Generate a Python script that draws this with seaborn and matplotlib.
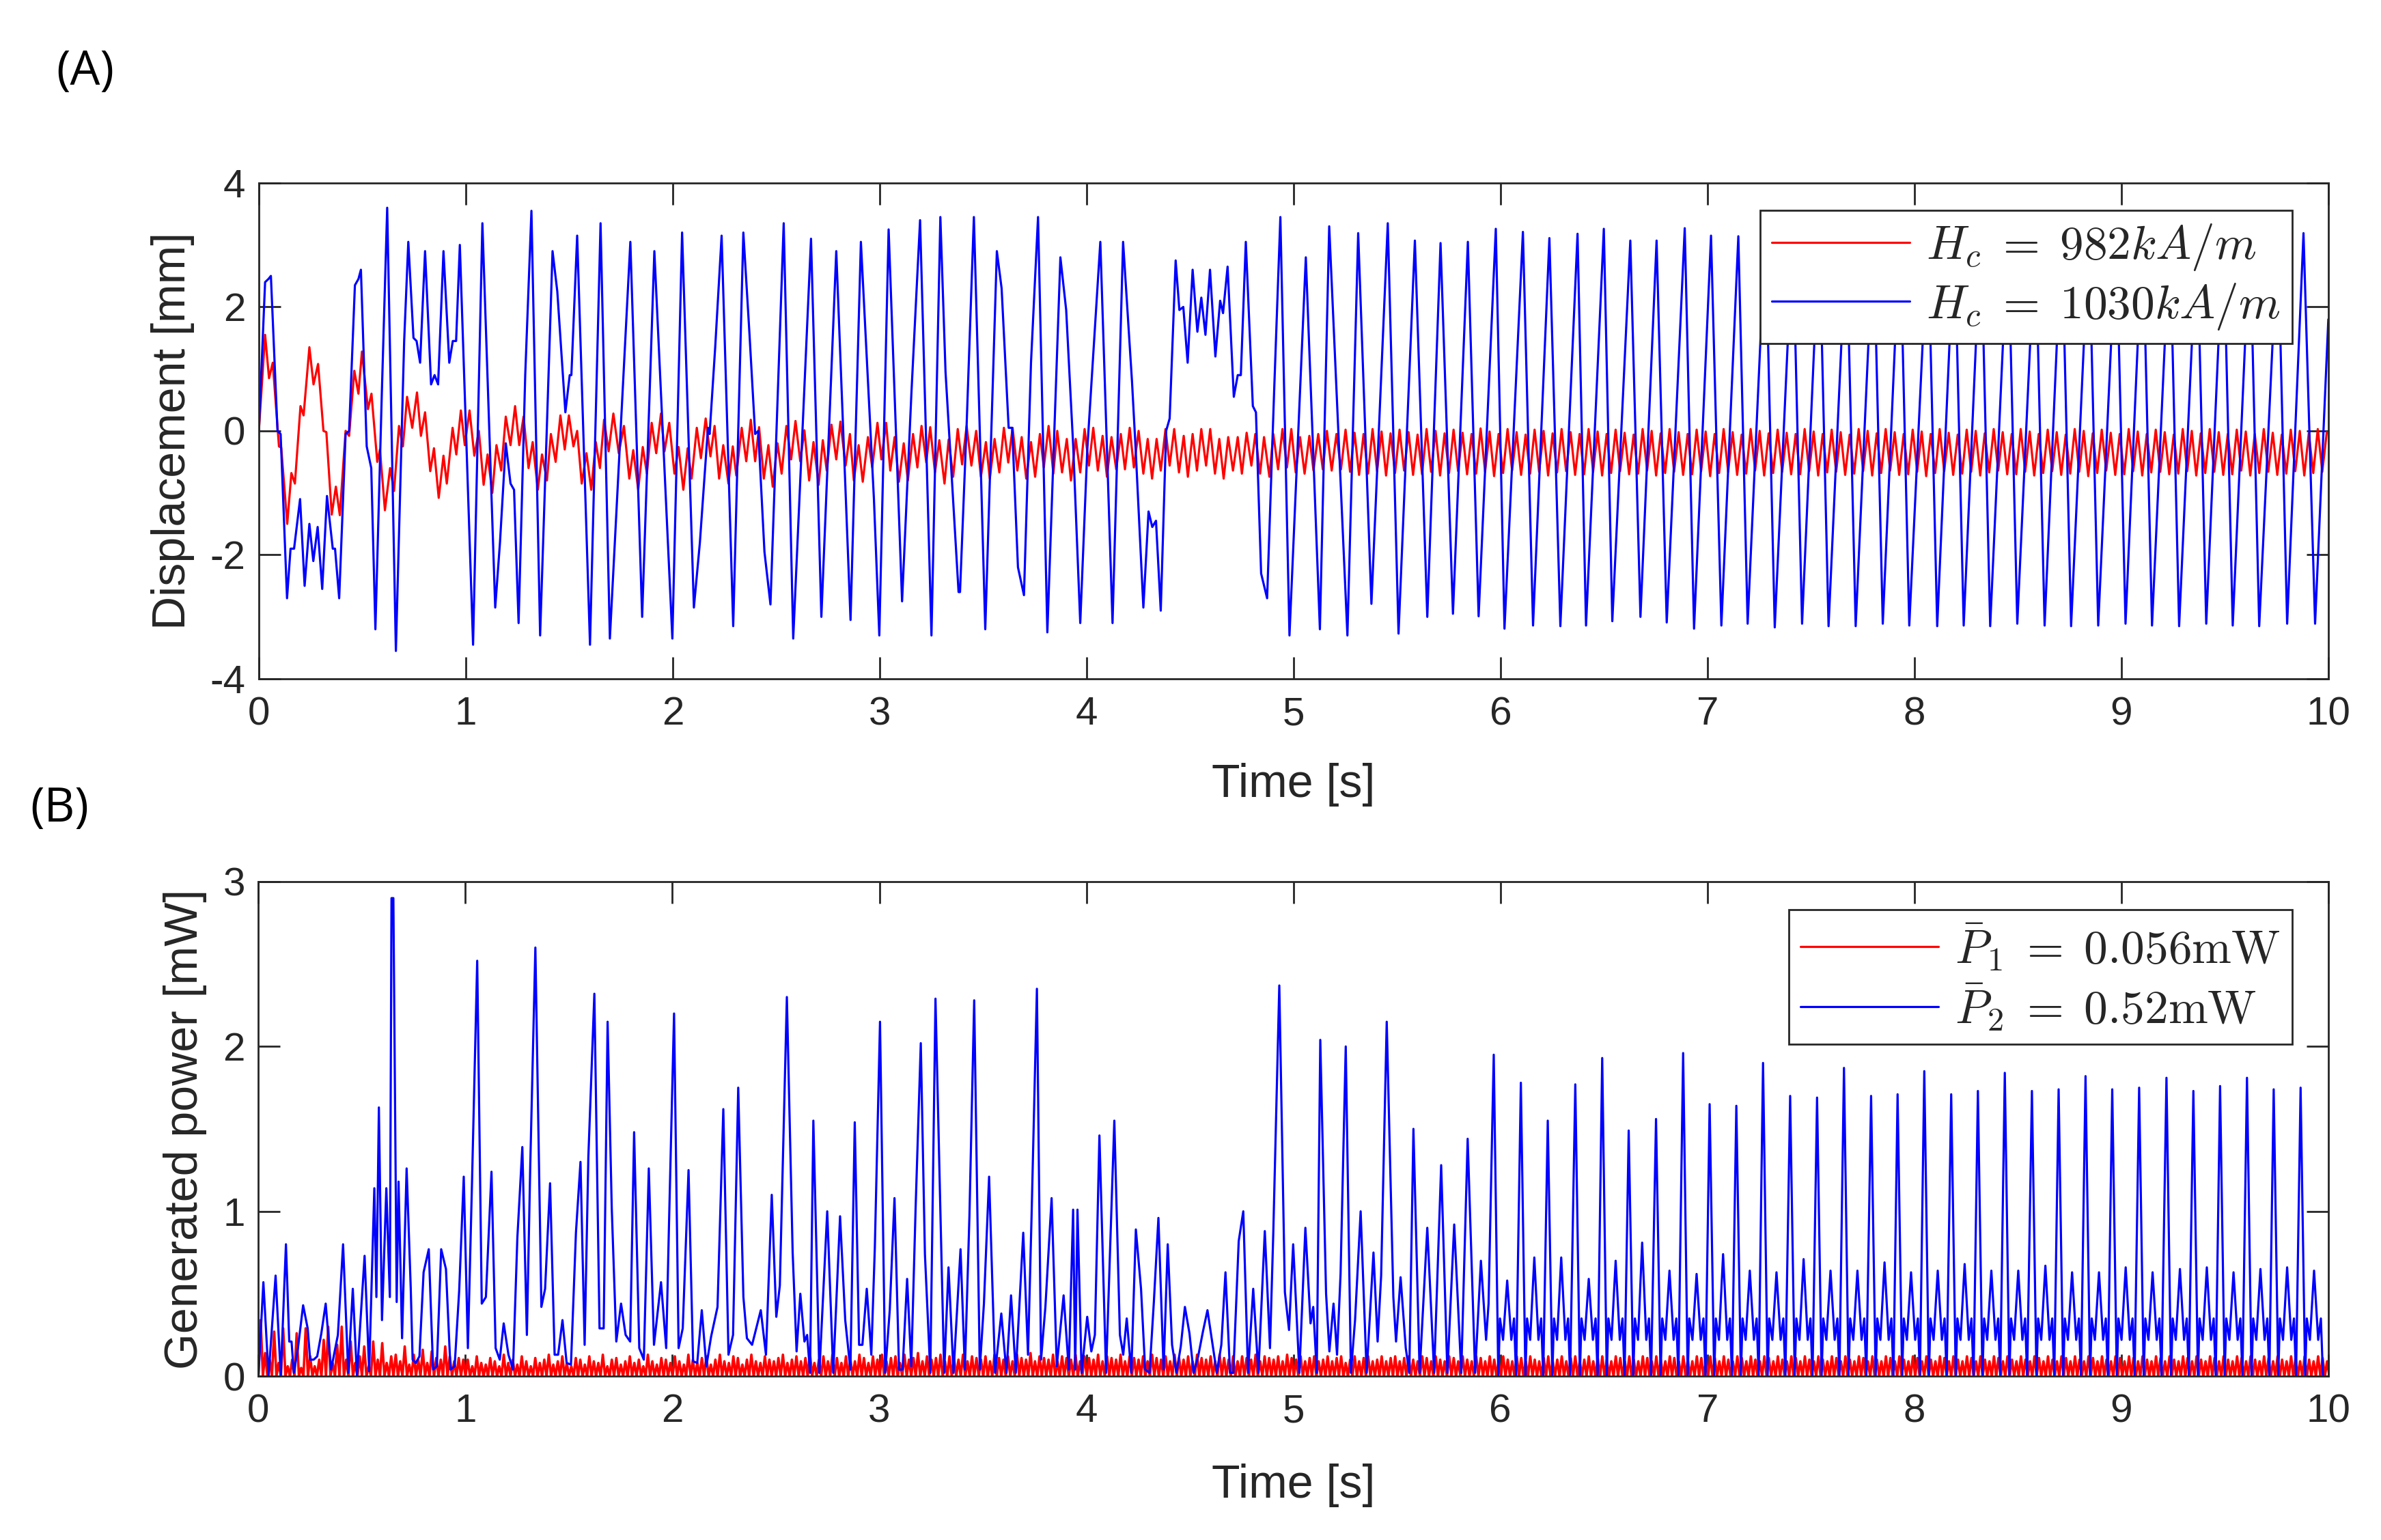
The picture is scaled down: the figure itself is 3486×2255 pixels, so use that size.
import numpy as np
import matplotlib
matplotlib.use("Agg")
from matplotlib import pyplot as plt
import seaborn as sns

# ---------- (A) displacement [mm] ----------
# blue, Hc = 1030 kA/m : turning points (time s, mm)
disp_blue_pts = np.array([
    (0.0, 0.0), (0.03, 2.4), (0.046, 2.45), (0.058, 2.5), (0.09, 0.0), (0.105, -0.05),
    (0.136, -2.7), (0.153, -1.9), (0.17, -1.9), (0.199, -1.1), (0.221, -2.5), (0.244, -1.5),
    (0.263, -2.1), (0.284, -1.55), (0.306, -2.55), (0.329, -1.05), (0.357, -1.9), (0.368, -1.9),
    (0.388, -2.7), (0.419, -0.05), (0.436, 0.0), (0.464, 2.35), (0.481, 2.45), (0.493, 2.6),
    (0.521, -0.25), (0.543, -0.6), (0.563, -3.2), (0.594, 0.6), (0.62, 3.6), (0.662, -3.55),
    (0.702, 1.45), (0.722, 3.05), (0.747, 1.5), (0.762, 1.45), (0.779, 1.1), (0.803, 2.9),
    (0.832, 0.75), (0.849, 0.9), (0.866, 0.75), (0.892, 2.9), (0.92, 1.1), (0.937, 1.45),
    (0.953, 1.45), (0.971, 3.0), (1.035, -3.45), (1.08, 3.35), (1.142, -2.85), (1.165, -1.8),
    (1.193, -0.2), (1.216, -0.85), (1.233, -0.95), (1.255, -3.1), (1.287, 0.9), (1.317, 3.55),
    (1.359, -3.3), (1.419, 2.9), (1.442, 2.25), (1.481, 0.3), (1.502, 0.9), (1.51, 0.9),
    (1.538, 3.15), (1.6, -3.45), (1.651, 3.35), (1.696, -3.35), (1.795, 3.05), (1.852, -3.0),
    (1.911, 2.9), (1.998, -3.35), (2.045, 3.2), (2.102, -2.85), (2.131, -1.8), (2.17, 0.05),
    (2.178, -0.05), (2.205, 1.35), (2.236, 3.15), (2.292, -3.15), (2.341, 3.2), (2.37, 1.6),
    (2.398, -0.05), (2.413, 0.0), (2.443, -1.95), (2.472, -2.8), (2.536, 3.35), (2.582, -3.35),
    (2.668, 3.1), (2.718, -3.0), (2.79, 2.9), (2.859, -3.05), (2.909, 3.05), (2.972, -1.1),
    (2.998, -3.3), (3.043, 3.25), (3.108, -2.75), (3.153, 0.6), (3.195, 3.4), (3.25, -3.3),
    (3.293, 3.45), (3.318, 0.95), (3.381, -2.6), (3.388, -2.6), (3.42, 0.1), (3.455, 3.45),
    (3.51, -3.2), (3.566, 2.9), (3.589, 2.3), (3.623, 0.05), (3.64, 0.05), (3.668, -2.2),
    (3.697, -2.65), (3.731, 1.1), (3.765, 3.45), (3.81, -3.25), (3.873, 2.8), (3.901, 1.95),
    (3.935, -0.25), (3.969, -3.1), (4.003, -0.3), (4.066, 3.05), (4.125, -3.1), (4.176, 3.05),
    (4.219, 0.8), (4.236, -0.25), (4.274, -2.85), (4.299, -1.3), (4.317, -1.55), (4.335, -1.45),
    (4.358, -2.9), (4.384, 0.0), (4.401, 0.2), (4.43, 2.75), (4.448, 1.95), (4.467, 2.0),
    (4.488, 1.1), (4.512, 2.6), (4.535, 1.6), (4.554, 2.15), (4.574, 1.55), (4.596, 2.6),
    (4.622, 1.2), (4.645, 2.1), (4.659, 1.9), (4.681, 2.65), (4.711, 0.55), (4.73, 0.9),
    (4.745, 0.9), (4.769, 3.05), (4.803, 0.4), (4.818, 0.3), (4.843, -2.3), (4.872, -2.7),
    (4.906, 0.65), (4.936, 3.45), (4.98, -3.3), (5.059, 2.8), (5.127, -3.2), (5.172, 3.3),
    (5.26, -3.3), (5.312, 3.19), (5.376, -2.79), (5.455, 3.35), (5.507, -3.27), (5.586, 3.07),
    (5.646, -3.0), (5.71, 3.03), (5.77, -2.95), (5.842, 3.05), (5.894, -2.99), (5.977, 3.26),
    (6.019, -3.19), (6.108, 3.21), (6.157, -3.14), (6.236, 3.11), (6.289, -3.15), (6.372, 3.18),
    (6.413, -3.14), (6.499, 3.26), (6.54, -3.07), (6.627, 3.07), (6.676, -3.0), (6.754, 3.07),
    (6.803, -3.09), (6.89, 3.27), (6.935, -3.19), (7.017, 3.15), (7.067, -3.14), (7.149, 3.14),
    (7.194, -3.11), (7.28, 3.25), (7.325, -3.17), (7.412, 3.2), (7.457, -3.11), (7.54, 3.24),
    (7.585, -3.15), (7.671, 3.18), (7.716, -3.15), (7.802, 3.22), (7.847, -3.11), (7.93, 3.26),
    (7.975, -3.14), (8.065, 3.2), (8.11, -3.15), (8.193, 3.22), (8.238, -3.14), (8.321, 3.25),
    (8.366, -3.15), (8.452, 3.2), (8.497, -3.11), (8.584, 3.22), (8.629, -3.14), (8.712, 3.25),
    (8.757, -3.15), (8.843, 3.2), (8.888, -3.14), (8.975, 3.22), (9.02, -3.11), (9.103, 3.25),
    (9.148, -3.14), (9.234, 3.2), (9.279, -3.15), (9.365, 3.22), (9.41, -3.11), (9.493, 3.25),
    (9.538, -3.14), (9.621, 3.2), (9.666, -3.15), (9.756, 3.22), (9.801, -3.11), (9.88, 3.19),
    (9.936, -3.11), (10.0, 1.8),
])

# red, Hc = 982 kA/m : transient part (time s, mm)
disp_red_pts = np.array([
    (0.0, 0.0), (0.03, 1.55), (0.049, 0.85), (0.067, 1.1), (0.097, -0.25), (0.108, -0.27),
    (0.137, -1.5), (0.157, -0.68), (0.174, -0.85), (0.201, 0.4), (0.216, 0.25), (0.244, 1.35),
    (0.264, 0.75), (0.286, 1.08), (0.312, 0.0), (0.326, -0.02), (0.352, -1.35), (0.372, -0.9),
    (0.391, -1.36), (0.419, 0.0), (0.436, -0.08), (0.461, 0.97), (0.481, 0.6), (0.498, 1.28),
    (0.527, 0.35), (0.544, 0.6), (0.572, -0.5), (0.585, -0.3), (0.609, -1.28), (0.634, -0.6),
    (0.653, -0.97), (0.677, 0.08), (0.696, -0.25), (0.716, 0.55), (0.741, 0.05), (0.764, 0.62),
    (0.783, -0.08), (0.803, 0.3), (0.828, -0.65), (0.846, -0.28), (0.869, -1.08), (0.892, -0.4),
    (0.908, -0.85), (0.936, 0.05), (0.954, -0.38), (0.976, 0.33), (0.995, -0.23), (1.018, 0.33),
    (1.041, -0.4), (1.063, 0.0), (1.086, -0.87), (1.105, -0.38), (1.128, -1.0), (1.148, -0.23),
    (1.171, -0.64), (1.193, 0.23), (1.216, -0.23), (1.238, 0.4), (1.258, -0.23), (1.279, 0.23),
    (1.303, -0.6), (1.323, -0.18), (1.348, -0.95), (1.368, -0.38), (1.392, -0.8), (1.411, -0.05),
    (1.434, -0.5), (1.457, 0.25), (1.478, -0.3), (1.498, 0.25), (1.52, -0.25), (1.538, 0.0),
    (1.56, -0.85), (1.583, -0.36), (1.606, -0.95), (1.628, -0.18), (1.648, -0.6), (1.668, 0.18),
    (1.69, -0.33), (1.713, 0.28), (1.739, -0.36), (1.764, 0.08), (1.79, -0.77), (1.809, -0.31),
    (1.833, -0.95), (1.855, -0.26), (1.875, -0.69), (1.898, 0.13), (1.92, -0.36), (1.943, 0.28),
    (1.96, -0.33), (1.983, 0.13), (2.008, -0.69), (2.028, -0.26), (2.051, -0.95), (2.072, -0.28),
    (2.091, -0.77), (2.116, 0.05), (2.136, -0.44), (2.159, 0.2), (2.182, -0.41), (2.202, 0.08),
    (2.224, -0.77), (2.244, -0.23), (2.269, -0.85), (2.29, -0.25), (2.307, -0.72), (2.333, 0.05),
    (2.355, -0.49), (2.377, 0.18), (2.398, -0.49), (2.417, 0.06), (2.44, -0.77), (2.462, -0.23),
    (2.483, -0.9), (2.506, -0.2), (2.526, -0.69), (2.549, 0.08), (2.572, -0.46), (2.593, 0.16),
    (2.616, -0.49), (2.636, 0.01), (2.659, -0.8), (2.68, -0.18), (2.705, -0.87), (2.725, -0.15),
    (2.744, -0.64), (2.767, 0.1), (2.79, -0.46), (2.81, 0.15), (2.835, -0.56), (2.856, -0.05),
    (2.875, -0.8), (2.898, -0.23), (2.918, -0.82), (2.943, -0.1), (2.964, -0.59), (2.989, 0.13),
    (3.008, -0.46), (3.031, 0.13), (3.051, -0.64), (3.072, -0.1), (3.093, -0.82), (3.116, -0.2),
    (3.136, -0.8), (3.161, -0.05), (3.182, -0.59), (3.202, 0.08), (3.225, -0.51), (3.244, 0.06),
    (3.267, -0.67), (3.288, -0.15), (3.313, -0.85), (3.333, -0.14), (3.355, -0.74), (3.377, 0.03),
    (3.398, -0.54), (3.42, 0.08), (3.443, -0.56), (3.466, 0.0), (3.489, -0.74), (3.513, -0.18),
    (3.532, -0.77), (3.555, -0.13), (3.578, -0.67), (3.6, 0.05), (3.621, -0.51), (3.642, 0.05),
    (3.665, -0.64), (3.686, -0.1), (3.708, -0.77), (3.731, -0.18), (3.751, -0.74), (3.774, -0.05),
    (3.793, -0.59), (3.816, 0.08), (3.839, -0.69), (3.858, 0.0), (3.881, -0.67), (3.904, -0.13),
    (3.924, -0.8), (3.947, -0.13), (3.969, -0.67), (3.99, 0.03), (4.011, -0.56), (4.032, 0.05),
    (4.054, -0.64), (4.077, -0.08), (4.098, -0.74), (4.12, -0.1), (4.143, -0.62), (4.165, -0.05),
    (4.185, -0.62), (4.208, 0.05), (4.228, -0.59), (4.251, 0.0), (4.274, -0.69), (4.295, -0.13),
    (4.316, -0.77), (4.338, -0.13), (4.358, -0.64), (4.381, 0.03), (4.401, -0.56), (4.423, 0.03),
    (4.446, -0.67), (4.469, -0.08), (4.489, -0.74), (4.512, -0.05), (4.533, -0.64), (4.554, 0.03),
    (4.577, -0.56), (4.597, 0.03), (4.62, -0.69), (4.641, -0.13), (4.662, -0.77), (4.684, -0.1),
    (4.707, -0.64), (4.73, -0.1), (4.75, -0.69), (4.773, -0.03), (4.796, -0.56), (4.815, -0.05),
    (4.838, -0.69), (4.857, -0.1), (4.883, -0.74), (4.902, -0.05), (4.925, -0.62), (4.946, 0.03),
    (4.968, -0.59), (4.989, 0.03), (5.01, -0.67), (5.031, -0.1), (5.053, -0.69), (5.076, -0.08),
    (5.096, -0.64), (5.119, -0.05), (5.141, -0.62), (5.161, 0.0), (5.184, -0.64), (5.207, -0.05),
    (5.229, -0.62),
])

# red steady state after 5.25 s: one peak / one trough every half period (~23 Hz)
red_steady_start = 5.251
red_half_period = 0.02175
red_steady_peaks = [
    0.02, -0.03, -0.05, 0.03, -0.01, -0.04, 0.02, -0.02, -0.06, 0.03, 0.0, -0.04, 0.02, -0.03, -0.05,
    0.04, -0.01, -0.05, 0.03, -0.02, -0.06, 0.02, 0.0, -0.04, 0.03, -0.02, -0.05, 0.03, -0.01, -0.05,
    0.02, -0.03, -0.06, 0.03, 0.0, -0.04, 0.03, -0.02, -0.05, 0.02, -0.01, -0.05, 0.03, -0.02, -0.06,
    0.03, 0.0, -0.04, 0.02, -0.03, -0.05, 0.03, -0.01, -0.05, 0.02, -0.02, -0.06, 0.03, 0.0, -0.04,
    0.03, -0.02, -0.05, 0.02, -0.01, -0.05, 0.03, -0.03, -0.06, 0.02, 0.0, -0.04, 0.03, -0.02, -0.05,
    0.03, -0.01, -0.05, 0.02, -0.02, -0.06, 0.03, 0.0, -0.04, 0.02, -0.03, -0.05, 0.03, -0.01, -0.05,
    0.02, -0.02, -0.06, 0.03, 0.0, -0.04, 0.03, -0.02, -0.05, 0.02, -0.01, -0.05, 0.03, -0.03, -0.06,
    0.02, 0.0, -0.04, 0.03, -0.02,
]
red_steady_troughs = [
    -0.66, -0.71, -0.69, -0.65, -0.72, -0.68, -0.64, -0.71, -0.70, -0.66, -0.72, -0.68, -0.65, -0.70, -0.69,
    -0.66, -0.73, -0.68, -0.64, -0.71, -0.69, -0.66, -0.72, -0.67, -0.65, -0.71, -0.70, -0.66, -0.72, -0.68,
    -0.65, -0.70, -0.69, -0.64, -0.72, -0.68, -0.66, -0.71, -0.70, -0.65, -0.73, -0.68, -0.66, -0.71, -0.69,
    -0.64, -0.72, -0.68, -0.66, -0.70, -0.70, -0.65, -0.72, -0.67, -0.66, -0.71, -0.69, -0.65, -0.72, -0.68,
    -0.64, -0.71, -0.70, -0.66, -0.73, -0.68, -0.65, -0.71, -0.69, -0.66, -0.72, -0.67, -0.64, -0.70, -0.70,
    -0.66, -0.72, -0.68, -0.65, -0.71, -0.69, -0.66, -0.73, -0.68, -0.64, -0.71, -0.70, -0.65, -0.72, -0.67,
    -0.66, -0.70, -0.69, -0.65, -0.72, -0.68, -0.66, -0.71, -0.70, -0.64, -0.72, -0.68, -0.66, -0.71, -0.69,
    -0.65, -0.72, -0.68, -0.66,
]

# ---------- (B) generated power [mW] ----------
# blue transient part (time s, mW)
pow_blue_pts = np.array([
    (0.0, 0.0), (0.024, 0.57), (0.049, 0.0), (0.083, 0.61), (0.108, 0.0), (0.133, 0.8), (0.149, 0.21),
    (0.16, 0.21), (0.171, 0.02), (0.191, 0.17), (0.216, 0.43), (0.238, 0.29), (0.25, 0.1), (0.267, 0.1),
    (0.284, 0.12), (0.304, 0.26), (0.325, 0.44), (0.351, 0.04), (0.384, 0.25), (0.409, 0.8), (0.434, 0.02),
    (0.456, 0.53), (0.476, 0.0), (0.513, 0.73), (0.535, 0.03), (0.56, 1.14), (0.57, 0.48), (0.582, 1.63),
    (0.597, 0.34), (0.618, 1.14), (0.635, 0.48), (0.643, 2.9), (0.652, 2.9), (0.668, 0.45), (0.677, 1.18),
    (0.694, 0.23), (0.716, 1.26), (0.736, 0.53), (0.745, 0.1), (0.76, 0.08), (0.778, 0.12), (0.798, 0.63),
    (0.823, 0.77), (0.844, 0.04), (0.862, 0.06), (0.883, 0.77), (0.906, 0.65), (0.928, 0.04), (0.948, 0.06),
    (0.97, 0.52), (0.992, 1.21), (1.012, 0.17), (1.032, 1.18), (1.057, 2.52), (1.079, 0.44), (1.099, 0.48),
    (1.126, 1.24), (1.146, 0.17), (1.166, 0.1), (1.185, 0.32), (1.208, 0.13), (1.23, 0.04), (1.251, 0.84),
    (1.275, 1.39), (1.297, 0.25), (1.313, 1.26), (1.338, 2.6), (1.367, 0.42), (1.385, 0.53), (1.409, 1.17),
    (1.431, 0.13), (1.448, 0.13), (1.469, 0.34), (1.489, 0.08), (1.51, 0.07), (1.534, 0.87), (1.556, 1.3),
    (1.576, 0.19), (1.594, 1.33), (1.623, 2.32), (1.648, 0.29), (1.668, 0.29), (1.687, 2.15), (1.707, 1.02),
    (1.729, 0.21), (1.752, 0.44), (1.774, 0.25), (1.796, 0.21), (1.815, 1.48), (1.84, 0.17), (1.862, 0.1),
    (1.886, 1.26), (1.911, 0.19), (1.945, 0.57), (1.97, 0.17), (1.983, 0.89), (2.008, 2.2), (2.03, 0.17),
    (2.05, 0.29), (2.078, 1.25), (2.1, 0.09), (2.12, 0.08), (2.142, 0.4), (2.164, 0.06), (2.187, 0.24),
    (2.218, 0.42), (2.246, 1.62), (2.271, 0.13), (2.293, 0.25), (2.318, 1.75), (2.343, 0.48), (2.36, 0.23),
    (2.385, 0.19), (2.427, 0.4), (2.452, 0.13), (2.48, 1.1), (2.502, 0.36), (2.519, 0.55), (2.553, 2.3),
    (2.581, 0.75), (2.6, 0.15), (2.618, 0.5), (2.638, 0.21), (2.651, 0.25), (2.665, 0.02), (2.681, 1.55),
    (2.71, 0.02), (2.748, 1.0), (2.777, 0.02), (2.81, 0.97), (2.835, 0.34), (2.86, 0.04), (2.881, 1.54),
    (2.902, 0.19), (2.918, 0.19), (2.939, 0.53), (2.961, 0.13), (2.978, 0.78), (3.003, 2.15), (3.028, 0.02),
    (3.05, 0.4), (3.073, 1.08), (3.095, 0.04), (3.112, 0.04), (3.134, 0.59), (3.154, 0.06), (3.175, 1.02),
    (3.2, 2.02), (3.22, 0.74), (3.246, 0.02), (3.271, 2.29), (3.293, 1.09), (3.313, 0.02), (3.334, 0.66),
    (3.358, 0.02), (3.392, 0.77), (3.413, 0.04), (3.435, 0.97), (3.458, 2.28), (3.485, 0.04), (3.505, 0.44),
    (3.53, 1.21), (3.559, 0.02), (3.589, 0.38), (3.614, 0.02), (3.636, 0.49), (3.659, 0.02), (3.695, 0.87),
    (3.718, 0.13), (3.735, 0.96), (3.761, 2.35), (3.781, 0.1), (3.802, 0.42), (3.832, 1.08), (3.857, 0.06),
    (3.89, 0.49), (3.915, 0.04), (3.936, 1.01), (3.946, 0.04), (3.957, 1.01), (3.977, 0.02), (4.004, 0.36),
    (4.024, 0.15), (4.041, 0.25), (4.063, 1.46), (4.095, 0.02), (4.135, 1.55), (4.162, 0.25), (4.178, 0.13),
    (4.195, 0.35), (4.217, 0.02), (4.239, 0.89), (4.264, 0.53), (4.284, 0.04), (4.305, 0.02), (4.326, 0.45),
    (4.348, 0.96), (4.373, 0.04), (4.393, 0.8), (4.414, 0.19), (4.435, 0.02), (4.456, 0.18), (4.476, 0.42),
    (4.498, 0.26), (4.518, 0.02), (4.54, 0.12), (4.563, 0.27), (4.585, 0.4), (4.61, 0.19), (4.63, 0.02),
    (4.652, 0.19), (4.672, 0.63), (4.694, 0.02), (4.71, 0.02), (4.736, 0.82), (4.758, 1.0), (4.781, 0.02),
    (4.806, 0.53), (4.831, 0.02), (4.862, 0.88), (4.887, 0.17), (4.903, 0.87), (4.932, 2.37), (4.959, 0.51),
    (4.979, 0.28), (4.999, 0.8), (5.029, 0.02), (5.058, 0.9), (5.083, 0.32), (5.096, 0.42), (5.113, 0.02),
    (5.13, 2.04), (5.158, 0.5), (5.174, 0.15), (5.194, 0.44), (5.211, 0.13), (5.228, 0.62), (5.253, 2.0),
    (5.278, 0.02), (5.298, 0.34), (5.325, 1.0), (5.354, 0.02), (5.387, 0.75), (5.407, 0.21), (5.424, 0.61),
    (5.451, 2.15), (5.483, 0.48), (5.496, 0.21), (5.518, 0.6), (5.543, 0.17), (5.56, 0.02), (5.58, 1.5),
    (5.61, 0.02), (5.647, 0.9), (5.68, 0.02), (5.714, 1.28), (5.744, 0.02), (5.777, 0.92), (5.811, 0.02),
    (5.842, 1.44), (5.878, 0.02), (5.906, 0.7), (5.931, 0.22), (5.943, 0.44),
])

# blue steady state: big peak time, big peak, small peak of each cycle
big_t = [5.968, 6.099, 6.229, 6.362, 6.492, 6.62, 6.752, 6.883, 7.011, 7.14, 7.269, 7.4, 7.53, 7.66,
         7.791, 7.919, 8.048, 8.178, 8.307, 8.437, 8.568, 8.697, 8.827, 8.956, 9.086, 9.218, 9.348,
         9.477, 9.607, 9.736, 9.866]
big_v = [1.95, 1.78, 1.55, 1.77, 1.93, 1.49, 1.56, 1.96, 1.65, 1.64, 1.9, 1.7, 1.69, 1.87, 1.70,
         1.71, 1.85, 1.71, 1.73, 1.84, 1.73, 1.74, 1.82, 1.74, 1.75, 1.81, 1.73, 1.76, 1.81, 1.74, 1.75]
small_v = [0.58, 0.72, 0.72, 0.59, 0.70, 0.81, 0.64, 0.62, 0.74, 0.64, 0.63, 0.71, 0.64, 0.64, 0.69,
           0.63, 0.64, 0.68, 0.64, 0.64, 0.67, 0.63, 0.63, 0.66, 0.63, 0.65, 0.66, 0.63, 0.65, 0.66, 0.64]
# shape between big peaks (offset after big peak s, level mW; None = small peak)
cycle_offsets = [0.022, 0.030, 0.045, 0.065, 0.085, 0.098, 0.108]
cycle_levels = [0.0, 0.35, 0.22, None, 0.22, 0.35, 0.0]

# red power: one peak per half period, zero in between (hundredths of mW)
red_pow_early = [34, 14, 10, 27, 8, 29, 6, 10, 26, 5, 29, 12, 6, 10, 22, 30, 8, 19, 30, 10, 21, 8, 12,
                 18, 6, 21, 10, 20, 8, 12, 13, 9, 18, 7, 13, 10, 16, 8, 15, 11, 10, 18, 12, 9, 11, 10]
red_pow_band = """
10 6 12 8 7 11 9 6 13 8 10 7 12 9 6 11 8 10 13 7 9 12 8
6 11 10 7 12 9 8 13 6 10 11 7 9 12 8 10 6 13 9 7 11 10 8
12 9 7 13 10 8 11 12 7 10 13 9 8 12 11 7 10 13 9 8 12 10 9
11 13 8 10 12 9 11 14 8 10 12 9 13 11 8 12 10 9 13 11 8 12 10
13 9 11 12 8 13 10 11 14 9 12 10 11 13 9 12 11 10 13 9 12 11 10
12 9 13 11 10 12 9 13 11 10 14 9 12 11 10 13 9 12 11 10 13 9 12
11 10 13 9 12 11 10 13 9 12 11 10 12 9 13 11 10 12 9 13 11 10 12
9 13 11 10 12 9 13 11 10 12 9 12 11 10 13 9 12 11 10 12 9 13 11
10 12 9 11 12 9 10 12 9 11 12 8 10 12 9 11 12 9 10 12 9 11 12
9 11 12 10 9 12 11 9 12 10 9 12 11 9 12 10 9 12 11 9 12 10 9
12 10 9 12 11 9 12 10 9 11 12 9 10 12 9 11 12 9 10 12 9 11 12
10 9 12 11 9 12 10 9 12 11 9 12 10 9 12 11 9 12 10 9 12 11 9
12 11 9 12 10 9 12 11 9 12 10 9 12 11 9 12 10 9 12 11 9 12 10
9 12 10 9 12 11 9 12 10 9 12 11 9 12 10 9 12 11 9 12 10 9 12
11 9 12 10 9 12 11 9 12 10 9 12 11 9 12 10 9 12 11 9 12 10 9
12 10 9 12 11 9 12 10 9 12 11 9 12 10 9 12 11 9 12 10 9 12 11
9 12 11 9 12 10 9 12 11 9 12 10 9 12 11 9 12 10 9 12 11 9 12
10 9 12 11 9 12 10 9 12 11 9 12 10 9 12 11 9 12 10 9 12 11 9
"""

xticks = list(range(0, 11))
disp_ticks = [-4, -2, 0, 2, 4]
pow_ticks = [0, 1, 2, 3]
disp_labels = [r"$H_c \;=\; 982kA/m$", r"$H_c \;=\; 1030kA/m$"]
pow_labels = [r"$\bar{P}_1 \;=\; 0.056\mathrm{mW}$", r"$\bar{P}_2 \;=\; 0.52\mathrm{mW}$"]

# ---------- assemble series ----------
n_red = len(red_steady_peaks) + len(red_steady_troughs)
red_steady = np.empty(n_red)
red_steady[0::2] = red_steady_peaks
red_steady[1::2] = red_steady_troughs
red_t = np.concatenate([disp_red_pts[:, 0], red_steady_start + red_half_period * np.arange(n_red)])
red_v = np.concatenate([disp_red_pts[:, 1], red_steady])

cyc_t, cyc_v = [], []
for T, B, S in zip(big_t, big_v, small_v):
    cyc_t.append(T)
    cyc_v.append(B)
    for off, lev in zip(cycle_offsets, cycle_levels):
        cyc_t.append(T + off)
        cyc_v.append(S if lev is None else lev)
pb_t = np.concatenate([pow_blue_pts[:, 0], cyc_t])
pb_v = np.concatenate([pow_blue_pts[:, 1], cyc_v])

red_peaks_pow = np.array(red_pow_early + [int(s) for s in red_pow_band.split()]) / 100.0
pr_t = np.empty(2 * len(red_peaks_pow) + 1)
pr_v = np.zeros_like(pr_t)
pr_t[0::2] = red_half_period * np.arange(len(red_peaks_pow) + 1)
pr_t[1::2] = red_half_period * (np.arange(len(red_peaks_pow)) + 0.5)
pr_v[1::2] = red_peaks_pow

# ---------- style ----------
sns.set_style("ticks")
plt.rcParams["font.family"] = ["Liberation Sans", "DejaVu Sans"]
plt.rcParams["mathtext.fontset"] = "cm"
plt.rcParams["axes.unicode_minus"] = False
ink = "#262626"

fig = plt.figure(figsize=(34.87, 22.55), dpi=100)
axA = fig.add_axes([0.1087, 0.5592, 0.8689, 0.3220])
axB = fig.add_axes([0.1085, 0.1064, 0.8691, 0.3211])

lw = 2.3
sns.lineplot(x=red_t, y=red_v, ax=axA, color="#ff0000", linewidth=lw, estimator=None, sort=False,
             label=disp_labels[0])
sns.lineplot(x=disp_blue_pts[:, 0], y=disp_blue_pts[:, 1], ax=axA, color="#0000ff", linewidth=lw,
             estimator=None, sort=False, label=disp_labels[1])
sns.lineplot(x=pr_t, y=pr_v, ax=axB, color="#ff0000", linewidth=2.6, estimator=None, sort=False,
             label=pow_labels[0])
sns.lineplot(x=pb_t, y=pb_v, ax=axB, color="#0000ff", linewidth=lw, estimator=None, sort=False,
             label=pow_labels[1])

for ax, yl, yt, ylab, top in [(axA, (-4, 4), disp_ticks, "Displacement [mm]", 0.945),
                              (axB, (0, 3), pow_ticks, "Generated power [mW]", 0.943)]:
    ax.set_xlim(0, 10)
    ax.set_ylim(*yl)
    ax.set_xticks(xticks)
    ax.set_yticks(yt)
    ax.tick_params(direction="in", top=True, right=True, length=23, width=2.0, colors=ink,
                   labelsize=42)
    ax.tick_params(axis="x", pad=18)
    ax.tick_params(axis="y", pad=14)
    for s in ax.spines.values():
        s.set_linewidth(2.0)
        s.set_color(ink)
        s.set_visible(True)
    ax.set_xlabel("Time [s]", fontsize=49, color=ink)
    ax.set_ylabel(ylab, fontsize=49, color=ink)
    leg = ax.legend(loc="upper right", bbox_to_anchor=(0.9825, top), borderaxespad=0,
                    fontsize=50, frameon=True, fancybox=False, framealpha=1, edgecolor=ink,
                    handlelength=2.9, handletextpad=0.35, labelspacing=0.18, borderpad=0.25)
    leg.get_frame().set_linewidth(2.0)
    for h in leg.get_lines():
        h.set_linewidth(2.3)

axA.xaxis.set_label_coords(0.5, -0.169)
axB.xaxis.set_label_coords(0.5, -0.177)
axA.yaxis.set_label_coords(-0.031, 0.5)
axB.yaxis.set_label_coords(-0.025, 0.5)

fig.text(0.0358, 0.953, "(A)", fontsize=50, family="Open Sans", ha="center", va="center", color="black")
fig.text(0.025, 0.4745, "(B)", fontsize=50, family="Open Sans", ha="center", va="center", color="black")

fig.savefig("out.png", dpi=100)
